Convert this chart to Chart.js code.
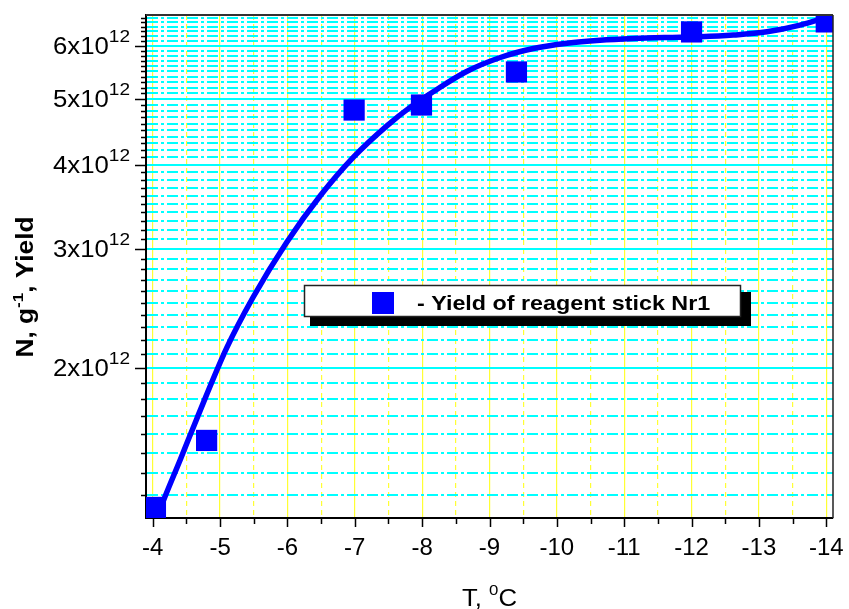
<!DOCTYPE html>
<html>
<head>
<meta charset="utf-8">
<script src="https://cdn.jsdelivr.net/npm/chart.js@4.4.0/dist/chart.umd.min.js"></script>
<style>
  html, body { margin: 0; padding: 0; background: #ffffff; }
  #wrap { width: 849px; height: 609px; }
</style>
</head>
<body>
<div id="wrap"><canvas id="c" width="849" height="609"></canvas></div>
<script>
// ---------- data ----------
const temperature = [-4.04, -4.80, -6.99, -7.99, -9.40, -12.0, -14.0];
const yieldValues = [1.244e12, 1.563e12, 4.818e12, 4.901e12, 5.485e12, 6.287e12, 6.505e12];

const fitTemperature = [-4.06, -4.18, -4.41, -4.65, -5.10, -5.49, -5.99, -6.49, -6.98, -7.48, -7.82,
  -8.17, -8.66, -9.16, -9.65, -10.15, -10.64, -11.14, -11.63, -12.13, -12.62, -13.12, -13.61, -14.01];
const fitYield = [1.200e12, 1.289e12, 1.465e12, 1.679e12, 2.144e12, 2.546e12, 3.071e12, 3.600e12, 4.103e12,
  4.569e12, 4.862e12, 5.132e12, 5.494e12, 5.762e12, 5.941e12, 6.049e12, 6.111e12, 6.147e12, 6.168e12,
  6.183e12, 6.219e12, 6.289e12, 6.434e12, 6.611e12];

const xTickLabels = [-4, -5, -6, -7, -8, -9, -10, -11, -12, -13, -14];
const yTickLabels = [2e12, 3e12, 4e12, 5e12, 6e12];

const legendLabel = '- Yield of reagent stick Nr1';
const xTitle = ['T, ', '0', 'C'];
const yTitle = ['N, g', '-1', ', Yield'];

// grid positions (major + minor)
const xGridValues = [];
for (let k = -28; k <= -8; k++) xGridValues.push(k / 2);
const yGridValues = [];
for (let k = 13; k <= 66; k++) yGridValues.push(k * 1e11);

// ---------- helpers ----------
const FONT = '"Liberation Sans", Arial, Helvetica, sans-serif';
const isMajorX = v => Math.abs(v - Math.round(v)) < 1e-6;
const isMajorY = v => { const n = v / 1e12; return Math.abs(n - Math.round(n)) < 1e-6; };

function richWidth(ctx, parts) {
  let w = 0;
  for (const p of parts) { ctx.font = p.font; w += ctx.measureText(p.t).width; }
  return w;
}
function drawRich(ctx, parts, x, y, align, stretch) {
  const w = richWidth(ctx, parts) * stretch;
  const x0 = align === 'right' ? x - w : (align === 'center' ? x - w / 2 : x);
  ctx.save();
  ctx.translate(x0, y);
  ctx.scale(stretch, 1);
  ctx.textAlign = 'left';
  ctx.textBaseline = 'alphabetic';
  let cx = 0;
  for (const p of parts) {
    ctx.font = p.font;
    ctx.fillStyle = p.color || '#000';
    ctx.fillText(p.t, cx, p.dy || 0);
    cx += ctx.measureText(p.t).width;
  }
  ctx.restore();
}

const decorPlugin = {
  id: 'decor',
  afterDraw(chart) {
    const ctx = chart.ctx;
    const xs = chart.scales.x, ys = chart.scales.y;
    const a = chart.chartArea;
    ctx.save();
    // frame top / right
    ctx.strokeStyle = '#333333';
    ctx.lineWidth = 2;
    ctx.beginPath();
    ctx.moveTo(a.left, a.top); ctx.lineTo(a.right, a.top);
    ctx.stroke();
    ctx.lineWidth = 1.5;
    ctx.strokeStyle = '#222222';
    ctx.beginPath();
    ctx.moveTo(a.right, a.top); ctx.lineTo(a.right, a.bottom);
    ctx.stroke();

    // tick marks
    ctx.strokeStyle = '#000';
    ctx.lineWidth = 1.5;
    ctx.beginPath();
    for (const t of ys.ticks) {
      const y = Math.round(ys.getPixelForValue(t.value)) + 0.5;
      const len = isMajorY(t.value) ? 11 : 5;
      ctx.moveTo(a.left - len, y); ctx.lineTo(a.left, y);
    }
    for (const t of xs.ticks) {
      const x = Math.round(xs.getPixelForValue(t.value)) + 0.5;
      const len = isMajorX(t.value) ? 9 : 6;
      ctx.moveTo(x, a.bottom); ctx.lineTo(x, a.bottom + len);
    }
    ctx.stroke();

    // y tick labels with superscript
    for (const v of yTickLabels) {
      const y = ys.getPixelForValue(v);
      drawRich(ctx, [
        { t: (v / 1e12) + 'x10', font: '23px ' + FONT },
        { t: '12', font: '17px ' + FONT, dy: -12 }
      ], a.left - 16, y + 8.3, 'right', 1.12);
    }

    // x title
    drawRich(ctx, [
      { t: xTitle[0], font: '23px ' + FONT },
      { t: xTitle[1], font: '15px ' + FONT, dy: -11 },
      { t: xTitle[2], font: '23px ' + FONT }
    ], (a.left + a.right) / 2, 606, 'center', 1.12);

    // y title (rotated)
    ctx.save();
    ctx.translate(33, 287);
    ctx.rotate(-Math.PI / 2);
    drawRich(ctx, [
      { t: yTitle[0], font: 'bold 23px ' + FONT },
      { t: yTitle[1], font: 'bold 15px ' + FONT, dy: -10 },
      { t: yTitle[2], font: 'bold 23px ' + FONT }
    ], 0, 0, 'center', 1.14);
    ctx.restore();

    // legend box with shadow
    ctx.fillStyle = '#000';
    ctx.fillRect(310, 292, 441, 34);
    ctx.fillStyle = '#fff';
    ctx.fillRect(304, 285, 437, 32);
    ctx.strokeStyle = '#222';
    ctx.lineWidth = 1.5;
    ctx.strokeRect(304.5, 285.5, 436, 31);
    ctx.fillStyle = '#0000ff';
    ctx.fillRect(372, 292, 22, 22);
    drawRich(ctx, [{ t: legendLabel, font: 'bold 21px ' + FONT }], 417, 310, 'left', 1.11);
    ctx.restore();
  }
};

new Chart(document.getElementById('c'), {
  type: 'scatter',
  data: {
    datasets: [
      {
        label: 'fit',
        data: fitTemperature.map((t, i) => ({ x: t, y: fitYield[i] })),
        showLine: true,
        borderColor: '#0000ff',
        borderWidth: 5.5,
        pointRadius: 0,
        cubicInterpolationMode: 'monotone',
        fill: false,
        order: 2
      },
      {
        label: 'Yield of reagent stick Nr1',
        data: temperature.map((t, i) => ({ x: t, y: yieldValues[i] })),
        pointStyle: 'rect',
        pointRadius: 15,
        pointHoverRadius: 15,
        backgroundColor: '#0000ff',
        borderColor: '#0000ff',
        borderWidth: 0,
        order: 1
      }
    ]
  },
  options: {
    responsive: false,
    animation: false,
    events: [],
    layout: { padding: { top: 15, right: 16, left: 0, bottom: 0 } },
    plugins: { legend: { display: false }, tooltip: { enabled: false } },
    scales: {
      x: {
        type: 'linear',
        reverse: true,
        min: -14.1,
        max: -3.9,
        afterBuildTicks: s => { s.ticks = xGridValues.map(v => ({ value: v })); },
        afterFit: s => { s.height = 91; },
        ticks: {
          autoSkip: false,
          maxRotation: 0,
          padding: 16,
          color: '#000',
          font: { family: FONT, size: 24 },
          callback: v => (isMajorX(v) && xTickLabels.includes(Math.round(v))) ? String(Math.round(v)) : ''
        },
        grid: {
          drawTicks: false,
          color: '#ffff33',
          lineWidth: 1.2
        },
        border: {
          display: true,
          color: '#000',
          width: 2,
          dash: c => (c.tick && !isMajorX(c.tick.value)) ? [5, 4] : []
        }
      },
      y: {
        type: 'logarithmic',
        min: 1.2e12,
        max: 6.66e12,
        afterBuildTicks: s => { s.ticks = yGridValues.map(v => ({ value: v })); },
        afterFit: s => { s.width = 146; },
        ticks: { display: false, autoSkip: false },
        grid: {
          drawTicks: false,
          color: '#00ffff',
          lineWidth: 2
        },
        border: {
          display: true,
          color: '#000',
          width: 2,
          dash: c => (c.tick && !isMajorY(c.tick.value)) ? [11, 3, 3, 3] : []
        }
      }
    }
  },
  plugins: [decorPlugin]
});
</script>
</body>
</html>
